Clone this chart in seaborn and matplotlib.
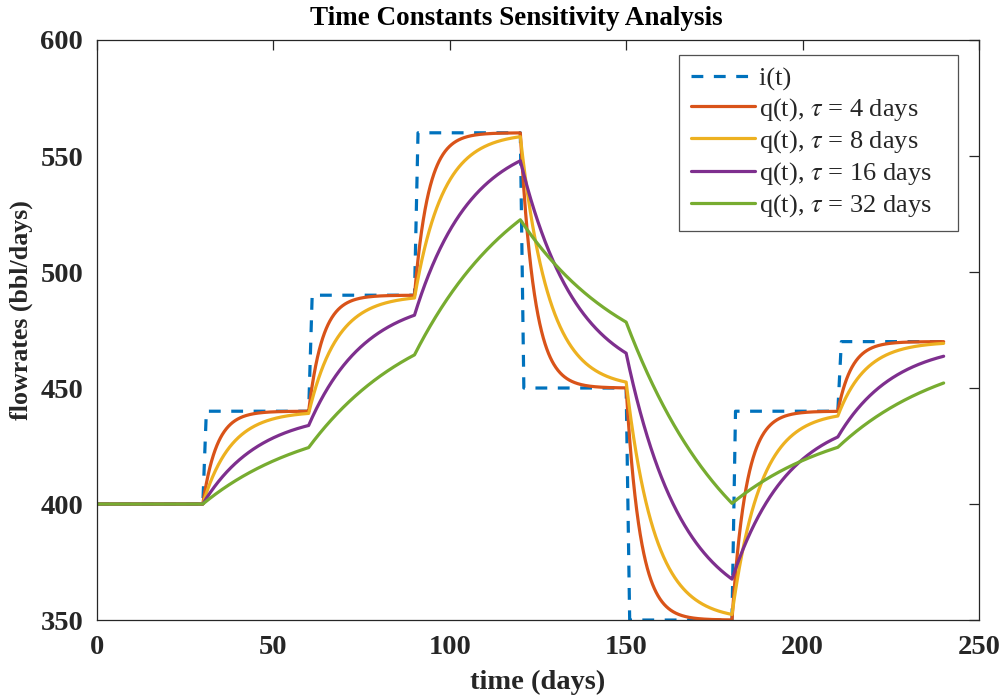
import numpy as np
import pandas as pd
import matplotlib
matplotlib.use("Agg")
import matplotlib.pyplot as plt
import seaborn as sns

# Injection schedule: level held over each 30-day interval (bbl/day)
step_starts = [0, 30, 60, 90, 120, 150, 180, 210]
step_levels = [400, 440, 490, 560, 450, 350, 440, 470]
t_end = 240
taus = [4, 8, 16, 32]  # time constants (days)

colors = ["#0072BD", "#D95319", "#EDB120", "#7E2F8E", "#77AC30"]

# Input sampled daily: the new level applies from the day after each switch
days = np.arange(0, t_end + 1)
inp = np.empty(days.size)
for s, lvl in zip(step_starts, step_levels):
    inp[days > s] = lvl
inp[0] = step_levels[0]


def first_order_response(tau, t):
    """Producer rate of a first-order (capacitance) system driven by the step schedule."""
    q = np.empty(t.size)
    q0 = step_levels[0]
    bounds = step_starts + [t_end]
    for k, lvl in enumerate(step_levels):
        a, b = bounds[k], bounds[k + 1]
        m = (t >= a) & (t <= b)
        q[m] = lvl + (q0 - lvl) * np.exp(-(t[m] - a) / tau)
        q0 = lvl + (q0 - lvl) * np.exp(-(b - a) / tau)
    return q


t_fine = np.linspace(0, t_end, 2401)
frames = [pd.DataFrame({"t": days, "rate": inp, "series": "i(t)"})]
for tau in taus:
    frames.append(pd.DataFrame({"t": t_fine, "rate": first_order_response(tau, t_fine),
                                "series": rf"q(t), $\tau$ = {tau} days"}))
df = pd.concat(frames, ignore_index=True)
labels = list(dict.fromkeys(df["series"]))

sns.set_theme(style="white")
plt.rcParams["font.family"] = ["Liberation Serif", "DejaVu Serif"]
plt.rcParams["mathtext.fontset"] = "stix"

fig = plt.figure(figsize=(10.03, 6.98), dpi=100)
ax = fig.add_axes([0.0967, 0.1117, 0.8793, 0.831])

sns.lineplot(data=df, x="t", y="rate", hue="series", hue_order=labels,
             palette=colors, style="series", style_order=labels,
             dashes={labels[0]: (3.7, 3.3), **{l: "" for l in labels[1:]}},
             linewidth=2.3, estimator=None, sort=False, ax=ax)

ax.set_xlim(0, 250)
ax.set_ylim(350, 600)
ax.set_xticks([0, 50, 100, 150, 200, 250])
ax.set_yticks([350, 400, 450, 500, 550, 600])

edge = "#262626"
for sp in ax.spines.values():
    sp.set_visible(True)
    sp.set_color(edge)
    sp.set_linewidth(0.9)
ax.tick_params(direction="in", length=7, width=0.9, colors=edge,
               top=True, right=True, labelsize=20.5)
ax.tick_params(axis="x", pad=11)
ax.tick_params(axis="y", pad=10)
for lab in ax.get_xticklabels() + ax.get_yticklabels():
    lab.set_fontweight("bold")

ax.set_xlabel("time (days)", fontsize=20.5, fontweight="bold", color=edge)
ax.set_ylabel("flowrates (bbl/days)", fontsize=18.7, fontweight="bold", color=edge)
ax.xaxis.set_label_coords(0.5, -0.086)
ax.yaxis.set_label_coords(-0.073, 0.534)
ax.set_title("Time Constants Sensitivity Analysis", fontsize=19.5, fontweight="bold",
             color="black", x=0.476, pad=11)

# Legend entries carry a little trailing room on the right of the text
handles, names = ax.get_legend_handles_labels()
leg = ax.legend(handles, [n + "   " for n in names],
                loc="upper right", bbox_to_anchor=(0.9762, 0.974), borderaxespad=0,
                fontsize=19, frameon=True, fancybox=False,
                edgecolor=edge, handlelength=2.45, handletextpad=0.15,
                labelspacing=0.2, borderpad=0.45)
leg.get_frame().set_linewidth(0.9)
for h in leg.get_lines():
    h.set_linewidth(2.3)

fig.savefig("out.png", dpi=100)
